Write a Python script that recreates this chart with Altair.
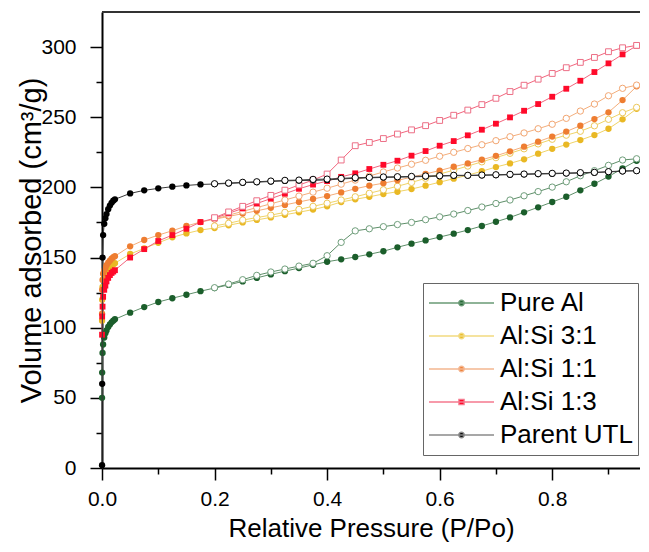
import altair as alt
import pandas as pd

FONT = "Liberation Sans"

SAMPLES = ["Pure Al", "Al:Si 3:1", "Al:Si 1:1", "Al:Si 1:3", "Parent UTL"]
MARKER_COLORS = ["#1b5e2b", "#e9b824", "#ee7d31", "#ff0a2a", "#000000"]
LINE_COLORS = ["#5e8f69", "#f0d468", "#f4ae7c", "#f2657d", "#3a3a3a"]
OPEN_COLORS = ["#6f9e7b", "#ecc85a", "#f2a672", "#ec6f86", "#000000"]
LEGEND_LINE_COLORS = ["#6a9a76", "#f2da80", "#f4b690", "#f57a8e", "#8a8a8a"]
SHAPES = ["circle", "circle", "circle", "square", "circle"]

# relative pressure grids
P_LOW = [0.0001, 0.0003, 0.001, 0.002, 0.004, 0.006, 0.008, 0.011, 0.014, 0.017, 0.02, 0.023]
P_ADS = [0.05, 0.075, 0.1, 0.125, 0.15, 0.175, 0.2, 0.225, 0.25, 0.275, 0.3, 0.325,
         0.35, 0.375, 0.4, 0.425, 0.45, 0.475, 0.5, 0.525, 0.55, 0.575, 0.6, 0.625,
         0.65, 0.675, 0.7, 0.725, 0.75, 0.775, 0.8, 0.825, 0.85, 0.875, 0.9, 0.925, 0.95]
P_DES = [0.2, 0.225, 0.25, 0.275, 0.3, 0.325, 0.35, 0.375, 0.4, 0.425, 0.45, 0.475,
         0.5, 0.525, 0.55, 0.575, 0.6, 0.625, 0.65, 0.675, 0.7, 0.725, 0.75, 0.775,
         0.8, 0.825, 0.85, 0.875, 0.9, 0.925, 0.95]

# Pure Al
LOW_PURE_AL = [50, 68, 82, 88, 93, 96, 98, 100.5, 102.3, 103.8, 105, 106]
ADS_PURE_AL = [110.7, 114.7, 118.3, 121, 123.5, 126, 128.3, 130.5, 133, 135.5, 138, 140.3,
               142.5, 144.8, 147, 148.7, 150.4, 152.3, 154.5, 157.3, 159.9, 162.2, 164.6, 167,
               169.6, 172.5, 175.5, 178.6, 182.2, 185.8, 189.6, 193.3, 197.9, 202.6, 207.7, 213.5, 219]
DES_PURE_AL = [128.5, 131.1, 134.2, 137.3, 139.7, 141.8, 143.9, 145.9, 151.3, 160.8, 169, 170.5,
               172, 173.5, 175, 177, 179, 181, 183.5, 186, 188.5, 191, 194, 197,
               200.2, 204, 208.3, 211.9, 215.7, 219.5, 220.4]

# Al:Si 3:1
LOW_31 = [105, 120, 129, 134, 136.5, 138.5, 140, 141.5, 143, 144, 145, 146]
ADS_31 = [152.5, 156.5, 160.5, 164.4, 167.2, 169.6, 171, 173, 175, 176.8, 178.6, 180.5,
          182.3, 184.2, 186.5, 189.6, 191.5, 193.3, 195.3, 196.9, 198.8, 201.2, 203.7, 206.2,
          208.7, 211.5, 214.5, 217.1, 220, 224, 227.5, 230.5, 233.7, 237.3, 241.8, 248.5, 256]
DES_31 = [172.5, 174.4, 176.7, 178.5, 180.2, 182.2, 184.3, 186.5, 188.7, 191, 193.3, 195.8,
          198.3, 200.8, 203.5, 206.5, 209.5, 212.3, 215.2, 218.2, 221.2, 224.3, 227.5, 231,
          234.3, 237.2, 240, 243.9, 248.5, 253.2, 257]

# Al:Si 1:1
LOW_11 = [110, 127, 134, 138.5, 141, 142.5, 144.5, 146.3, 147.8, 149.2, 150.2, 151]
ADS_11 = [158, 162.5, 166, 169.1, 172.5, 175.3, 177.3, 179.3, 181.3, 183.3, 185.4, 187.5,
          189.6, 191.7, 193.8, 196.4, 199, 201.2, 203, 205, 207.3, 209.6, 212, 214.7,
          217.1, 219.7, 222.5, 225.7, 229, 232.6, 236.2, 239.8, 244, 248.7, 253.5, 262.2, 272]
DES_11 = [177.4, 180.2, 182.9, 185.6, 188.3, 191, 193.8, 196.6, 199.4, 202.3, 205.2, 208.1,
          211, 213.8, 216.5, 219.3, 222.2, 225, 227.7, 230.4, 233.3, 236.1, 238.8, 241.8,
          245, 249.2, 254.4, 259.4, 265.3, 270.6, 272.9]

# Al:Si 1:3
LOW_13 = [95, 108, 115, 122, 127, 130, 133, 135.5, 137.5, 139, 140, 141]
ADS_13 = [150, 156, 161.8, 166, 170.5, 175.3, 178, 181.5, 185, 188.5, 192, 195.5,
          199, 202, 204.5, 207.5, 210, 213.1, 216.1, 219, 222.6, 225.9, 229.7, 233,
          237.1, 241.1, 245.4, 249.9, 254.6, 259.4, 264.6, 270.3, 276, 282.2, 288.4, 294.8, 301]
DES_13 = [178.4, 182.5, 186.5, 190.5, 194.3, 198, 201.7, 205.2, 209.5, 219.5, 229.7, 232,
          234.8, 238, 241, 244, 247.7, 251.4, 255.1, 259, 263.5, 268.3, 272.8, 277.1,
          281.2, 285.3, 289.1, 292.6, 296.7, 299.5, 301.2]

# Parent UTL
LOW_UTL = [2, 60, 150, 166, 174, 178, 181, 184.5, 187, 189, 190.5, 191.5]
ADS_UTL = [195.7, 197.9, 199.3, 200.5, 201.4, 202.1, 202.4, 202.8, 203.3, 203.7, 204.2, 204.6,
           204.9, 205.0, 205.3, 206.0, 206.5, 206.8, 207.1, 207.3, 207.5, 207.8, 208, 208.3,
           208.4, 208.6, 208.8, 209.0, 209.3, 209.5, 209.7, 210, 210.2, 210.5, 211, 211.5, 211.9]
DES_UTL = [202.6, 203.1, 203.6, 204.0, 204.5, 205.0, 205.2, 205.7, 205.9, 206.4, 206.9, 207.1,
           207.4, 207.6, 207.8, 208.1, 208.3, 208.6, 208.6, 208.8, 209.0, 209.3, 209.5, 209.8,
           210.0, 210.2, 210.5, 210.7, 211.2, 211.7, 211.9]

LOWS = [LOW_PURE_AL, LOW_31, LOW_11, LOW_13, LOW_UTL]
ADSS = [ADS_PURE_AL, ADS_31, ADS_11, ADS_13, ADS_UTL]
DESS = [DES_PURE_AL, DES_31, DES_11, DES_13, DES_UTL]

X_TICKS = [0, 0.1, 0.2, 0.3, 0.4, 0.5, 0.6, 0.7, 0.8, 0.9]
Y_TICKS = [0, 25, 50, 75, 100, 125, 150, 175, 200, 225, 250, 275, 300]

X_MAX = 0.956
Y_MAX = 325
W, H = 538, 456

X_MAJOR = "round(datum.value*10) % 2 == 0"
Y_MAJOR = "datum.value % 50 == 0"

x_axis = alt.Axis(
    values=X_TICKS,
    labelExpr=f"({X_MAJOR}) ? format(datum.value, '.1f') : ''",
    tickSize={"condition": {"test": X_MAJOR, "value": 12}, "value": 6},
    labelPadding=8, labelFlush=False, labelOverlap=False,
    title="Relative Pressure (P/Po)", titleFontSize=26, titlePadding=6, grid=False,
)
y_axis = alt.Axis(
    values=Y_TICKS,
    labelExpr=f"({Y_MAJOR}) ? datum.label : ''",
    tickSize={"condition": {"test": Y_MAJOR, "value": 12}, "value": 6},
    labelPadding=14, labelFlush=False, labelOverlap=False,
    title="Volume adsorbed (cm³/g)", titleFontSize=29, titleX=-62,
    titleBaseline="alphabetic", grid=False,
)
X_SCALE = alt.Scale(domain=[0, X_MAX], nice=False, zero=False)
Y_SCALE = alt.Scale(domain=[0, Y_MAX], nice=False)


def enc(chart):
    return chart.encode(
        x=alt.X("P:Q", scale=X_SCALE, axis=x_axis),
        y=alt.Y("V:Q", scale=Y_SCALE, axis=y_axis),
    )


layers = []
for i, name in enumerate(SAMPLES):
    ads = pd.DataFrame({"P": P_LOW + P_ADS, "V": LOWS[i] + ADSS[i]})
    des = pd.DataFrame({"P": P_DES, "V": DESS[i]})
    size = 34 if SHAPES[i] == "square" else 40
    layers.append(enc(alt.Chart(ads).mark_line(color=LINE_COLORS[i], strokeWidth=1)))
    layers.append(enc(alt.Chart(ads).mark_point(
        filled=True, shape=SHAPES[i], size=size, color=MARKER_COLORS[i], opacity=1)))
    layers.append(enc(alt.Chart(des).mark_line(color=LINE_COLORS[i], strokeWidth=1)))
    layers.append(enc(alt.Chart(des).mark_point(
        filled=True, shape=SHAPES[i], size=size, fill="white", stroke=OPEN_COLORS[i],
        strokeWidth=1, opacity=1)))

# legend owner (invisible points, one per sample)
LEG_CIRCLE = "M-1,0L1,0M-0.085,0A0.085,0.085,0,1,0,0.085,0A0.085,0.085,0,1,0,-0.085,0Z"
LEG_SQUARE = "M-1,0L1,0M-0.08,-0.08L0.08,-0.08L0.08,0.08L-0.08,0.08Z"
LEG_PATHS = [LEG_SQUARE if s == "square" else LEG_CIRCLE for s in SHAPES]
leg_df = pd.DataFrame({"sample": SAMPLES, "P": [P_ADS[0]] * 5, "V": [a[0] for a in ADSS]})
legend = alt.Legend(
    title=None, orient="none", legendX=321, legendY=271,
    symbolSize=4225, symbolStrokeWidth=1.3, symbolOpacity=1, clipHeight=30, rowPadding=3,
    padding=5, labelFontSize=26, labelFont=FONT, labelColor="black", labelOffset=5,
    labelLimit=400, strokeColor="#666666", fillColor="white", symbolOffset=0,
)
legend_layer = enc(alt.Chart(leg_df).mark_point(filled=True, opacity=0)).encode(
    fill=alt.Fill("sample:N", scale=alt.Scale(domain=SAMPLES, range=MARKER_COLORS), legend=legend),
    stroke=alt.Stroke("sample:N", scale=alt.Scale(domain=SAMPLES, range=LEGEND_LINE_COLORS), legend=legend),
    shape=alt.Shape("sample:N", scale=alt.Scale(domain=SAMPLES, range=LEG_PATHS), legend=legend),
)

top_border = alt.Chart(pd.DataFrame({"a": [0]})).mark_rule(color="#333333", strokeWidth=2).encode(
    x=alt.datum(0, scale=X_SCALE),
    x2=alt.datum(X_MAX),
    y=alt.value(0),
)

chart = alt.layer(top_border, *layers, legend_layer).properties(
    width=W, height=H,
    autosize=alt.AutoSizeParams(type="none"),
    padding={"left": 94, "top": 4, "right": 0, "bottom": 76},
).configure_view(stroke=None).configure_axis(
    domainColor="black", domainWidth=2, tickColor="black", tickWidth=1.5,
    labelFont=FONT, labelFontSize=21, labelColor="black",
    titleFont=FONT, titleFontWeight="normal", titleColor="black",
)

chart.save("out.html", embed_options={"renderer": "svg", "actions": False})
